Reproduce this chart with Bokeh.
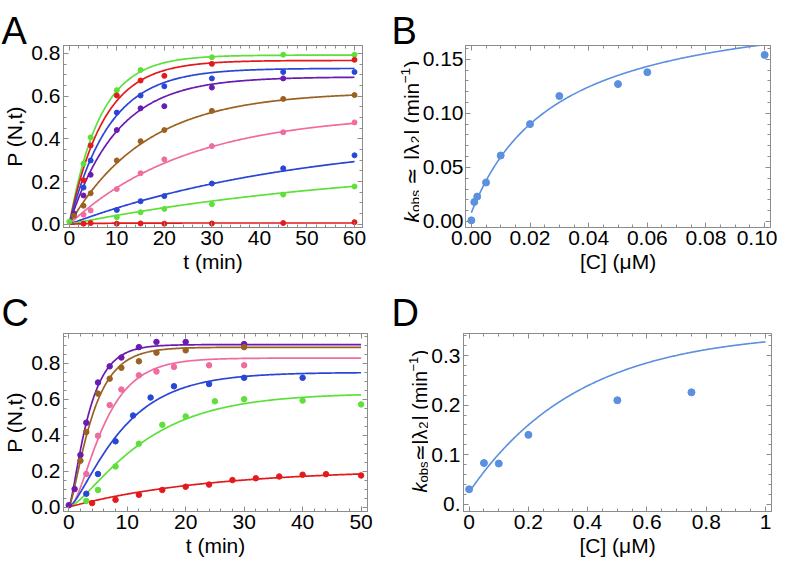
import numpy as np
from bokeh.plotting import figure
from bokeh.models import LinearAxis, FixedTicker, Label, Range1d, PrintfTickFormatter
from bokeh.layouts import column, row
from bokeh.embed import file_html
from bokeh.resources import INLINE

nan = float("nan")
FONT = "Liberation Sans"
FRAME = "#8c8c8c"
TICK_PX = "21px"

# ---------------- Panel A data ----------------
tA = [0, 1, 3, 4.5, 10, 15, 20, 30, 45, 60]
A_green1 = [0.012, nan, 0.284, 0.407, 0.628, 0.722, nan, 0.782, 0.794, 0.794]
A_red1 = [nan, nan, 0.206, 0.369, 0.603, 0.673, 0.695, 0.751, nan, 0.770]
A_blue1 = [nan, nan, 0.172, 0.299, 0.523, 0.603, 0.646, 0.683, 0.713, 0.713]
A_purple = [nan, 0.05, 0.135, 0.232, 0.441, 0.543, 0.553, 0.640, 0.683, nan]
A_brown = [nan, 0.04, 0.087, 0.145, 0.299, 0.389, 0.441, 0.531, 0.587, 0.605]
A_pink = [nan, nan, 0.045, 0.065, 0.165, 0.239, 0.304, 0.366, 0.431, 0.477]
A_blue2 = [nan, nan, nan, nan, 0.067, 0.108, 0.132, 0.191, 0.262, 0.323]
A_green2 = [nan, nan, nan, nan, 0.033, 0.056, 0.072, 0.094, 0.139, 0.177]
A_red2 = [nan, nan, 0.003, 0.006, 0.003, 0.004, 0.003, 0.004, 0.006, 0.010]
A_series = [A_green1, A_red1, A_blue1, A_purple, A_brown, A_pink, A_blue2, A_green2, A_red2]
# fitted curves: plateau, rate (1/min)
A_plateau = [0.792, 0.767, 0.73, 0.69, 0.62, 0.52, 0.42, 0.30, 0.006]
A_rate = [0.155, 0.14, 0.12, 0.10, 0.062, 0.04, 0.02, 0.015, 0.2]

GREEN, RED, BLUE, PURPLE, BROWN, PINK = "#5ee03a", "#e31a1c", "#2a46d6", "#6a1bb0", "#9b6121", "#f06b9f"
LBLUE = "#5b8fe0"
A_colors = [GREEN, RED, BLUE, PURPLE, BROWN, PINK, BLUE, GREEN, RED]

# ---------------- Panel B data ----------------
B_conc = [0, 0.001, 0.002, 0.005, 0.01, 0.02, 0.03, 0.05, 0.06, 0.1]
B_kobs = [0.001, 0.018, 0.023, 0.036, 0.061, 0.090, 0.116, 0.127, 0.138, 0.154]
B_fit = [0.008, 0.2005, 0.0289]  # k0, kmax, K

# ---------------- Panel C data ----------------
C_t_purple = [0, 1, 2, 3, 5, 7, 9, 12, 15, 20, 30]
C_purple = [0.010, 0.10, 0.29, 0.47, 0.694, 0.784, 0.833, 0.891, 0.92, 0.92, 0.908]
C_t_brown = [2, 3, 5, 7, 9, 12, 15, 20, 30]
C_brown = [0.258, 0.418, 0.632, 0.715, 0.776, 0.812, 0.86, 0.873, 0.891]
C_t_pink = [3, 5, 7, 9, 12, 15, 18, 24, 30]
C_pink = [0.184, 0.397, 0.568, 0.655, 0.734, 0.755, 0.781, 0.79, 0.79]
C_t_blue = [3, 5, 8, 11, 14, 18, 24, 30, 40]
C_blue = [0.074, 0.184, 0.366, 0.51, 0.61, 0.673, 0.685, 0.72, 0.72]
C_t_green = [3, 5, 8, 12, 16, 20, 25, 30, 40, 50]
C_green = [0.034, 0.095, 0.226, 0.353, 0.458, 0.505, 0.589, 0.601, 0.593, 0.572]
C_t_red = [4, 8, 12, 16, 20, 24, 28, 32, 36, 40, 44, 50]
C_red = [0.022, 0.04, 0.068, 0.095, 0.113, 0.125, 0.15, 0.16, 0.17, 0.18, 0.183, 0.176]
C_series = [(C_t_purple, C_purple), (C_t_brown, C_brown), (C_t_pink, C_pink),
            (C_t_blue, C_blue), (C_t_green, C_green), (C_t_red, C_red)]
C_colors = [PURPLE, BROWN, PINK, BLUE, GREEN, RED]
# fitted curves: plateau, rate, exponent
C_plateau = [0.905, 0.89, 0.83, 0.75, 0.635, 0.21]
C_rate = [0.345, 0.29, 0.225, 0.13, 0.092, 0.042]
C_power = [1.5, 1.5, 2.0, 1.5, 1.5, 1.0]

# ---------------- Panel D data ----------------
D_conc = [0, 0.05, 0.1, 0.2, 0.5, 0.75]
D_kobs = [0.03, 0.083, 0.082, 0.14, 0.21, 0.226]
D_fit = [0.024, 0.326, 2.7]  # k0, amplitude, rate


def style_axis(ax, ticks, minor, fmt=None, labels=True, overrides=None):
    ax.ticker = FixedTicker(ticks=list(ticks), minor_ticks=list(minor))
    ax.axis_line_color = FRAME
    ax.major_tick_line_color = FRAME
    ax.minor_tick_line_color = FRAME
    ax.major_tick_in = 5
    ax.major_tick_out = 0
    ax.minor_tick_in = 3
    ax.minor_tick_out = 0
    ax.major_label_text_font = FONT
    ax.major_label_text_color = "black"
    ax.major_label_text_font_size = TICK_PX
    ax.major_label_standoff = 3
    ax.axis_label_text_font = FONT
    ax.axis_label_text_font_style = "normal"
    ax.axis_label_text_font_size = "21px"
    ax.axis_label_text_color = "black"
    ax.axis_label_standoff = 2
    if fmt:
        ax.formatter = PrintfTickFormatter(format=fmt)
    if overrides:
        ax.major_label_overrides = overrides
    if not labels:
        ax.major_label_text_color = None
        ax.major_label_text_font_size = "1px"
        ax.major_label_standoff = 0


def panel(w, h, bl, br, bt, bb, xr, yr, xt, xm, yt, ym, xfmt=None, yfmt=None, xov=None, yov=None):
    p = figure(width=w, height=h, x_range=Range1d(*xr), y_range=Range1d(*yr), title=None,
               output_backend="svg", toolbar_location=None, x_axis_type=None, y_axis_type=None,
               min_border_left=bl, min_border_right=br, min_border_top=bt, min_border_bottom=bb)
    p.outline_line_color = FRAME
    p.outline_line_width = 1
    p.background_fill_color = "white"
    p.border_fill_color = "white"
    bottom = LinearAxis()
    style_axis(bottom, xt, xm, xfmt, overrides=xov)
    p.add_layout(bottom, "below")
    left = LinearAxis()
    style_axis(left, yt, ym, yfmt, overrides=yov)
    p.add_layout(left, "left")
    top = LinearAxis()
    style_axis(top, xt, xm, labels=False)
    p.add_layout(top, "above")
    right = LinearAxis()
    style_axis(right, yt, ym, labels=False)
    p.add_layout(right, "right")
    return p, bottom, left


def strip(w, h, bt=0, bb=0):
    # blank figure whose data units are pixels of its frame; holds letters and composite labels.
    # Its top/bottom borders equal those of the plots in the same row, so frames line up.
    fh = h - bt - bb
    s = figure(width=w, height=h, x_range=Range1d(0, w), y_range=Range1d(0, fh), title=None,
               output_backend="svg", toolbar_location=None, x_axis_type=None, y_axis_type=None,
               min_border_left=0, min_border_right=0, min_border_top=bt, min_border_bottom=bb)
    s.outline_line_color = None
    s.background_fill_color = "white"
    s.border_fill_color = "white"
    return s


def letter(s, text, x, y):
    s.add_layout(Label(x=x, y=y, text=text, text_font=FONT, text_font_size="38px",
                       text_color="black", text_align="left", text_baseline="alphabetic"))


def kobs_label(s, x0, y0, base, gap):
    # text, size factor, shift across baseline (px at 21px), style, advance (em)
    pieces = [("k", 1.0, 0, "italic", 0.50),
              ("obs", 0.65, 4, "normal", 1.62 + gap),
              ("\u2243", 1.0, 0, "normal", 0.84 + gap),
              ("|\u03bb", 1.0, 0, "normal", 0.80),
              ("2", 0.65, 4, "normal", 0.62),
              ("| (min", 1.0, 0, "normal", 2.45),
              ("\u22121", 0.65, -6, "normal", 1.16),
              (")", 1.0, 0, "normal", 0.33)]
    y = y0
    for text, sf, shift, style, adv in pieces:
        size = base * sf
        s.add_layout(Label(x=x0 + shift * base / 21.0, y=y, text=text, angle=np.pi / 2,
                           text_font=FONT, text_font_size=f"{size:.1f}px",
                           text_font_style=style, text_color="black",
                           text_align="left", text_baseline="alphabetic"))
        y += adv * size


# ---------------- top letters ----------------
topStrip = strip(777, 45)
letter(topStrip, "A", 1, 15)
letter(topStrip, "B", 391, 15)

# ---------------- Panel A ----------------
pA, axA_x, axA_y = panel(392, 237, 51, 30, 0, 55, (-1.21, 61.68), (-0.015, 0.837),
                         np.arange(0, 61, 10), np.arange(0, 61, 2),
                         np.arange(0, 0.81, 0.2), np.arange(0, 0.81, 0.05),
                         xfmt="%d", yfmt="%.1f")
axA_x.axis_label = "t (min)"
axA_y.axis_label = "P (N,t)"
tt = np.linspace(0, 60, 300)
for col, Am, k in zip(A_colors, A_plateau, A_rate):
    pA.line(tt, Am * (1 - np.exp(-k * tt)), line_color=col, line_width=1.7)
for col, ys in zip(A_colors, A_series):
    pA.scatter(tA, ys, size=5, color=col)

# ---------------- Panel B ----------------
stripB = strip(27, 237, 0, 55)
kobs_label(stripB, 18.5, 5, 21, 0.35)
pB, axB_x, axB_y = panel(358, 237, 44, 7, 0, 55, (-0.002, 0.102), (-0.0056, 0.1627),
                         np.arange(0, 0.101, 0.02), np.arange(0, 0.101, 0.005),
                         np.arange(0, 0.151, 0.05), np.arange(0, 0.161, 0.01),
                         xfmt="%.2f", yfmt="%.2f")
axB_y.major_label_standoff = 2
axB_x.axis_label = "[C] (\u03bcM)"
cc = np.linspace(0, 0.1, 300)
pB.line(cc, B_fit[0] + B_fit[1] * cc / (B_fit[2] + cc), line_color=LBLUE, line_width=1.6)
pB.scatter(B_conc, B_kobs, size=7, color=LBLUE)

# ---------------- middle letters ----------------
midStrip = strip(777, 45)
letter(midStrip, "C", 1, 15)
letter(midStrip, "D", 391, 15)

# ---------------- Panel C ----------------
pC, axC_x, axC_y = panel(392, 239, 59, 25, 6, 55, (-0.9, 51.1), (-0.025, 0.967),
                         np.arange(0, 51, 10), np.arange(0, 51, 2),
                         np.arange(0, 0.81, 0.2), np.arange(0, 0.96, 0.05),
                         xfmt="%d", yfmt="%.1f")
axC_x.axis_label = "t (min)"
axC_y.axis_label = "P (N,t)"
tc = np.linspace(0, 50, 300)
for col, Am, k, n in zip(C_colors, C_plateau, C_rate, C_power):
    pC.line(tc, Am * (1 - np.exp(-k * tc)) ** n, line_color=col, line_width=1.7)
for col, (ts, ys) in zip(C_colors, C_series):
    pC.scatter(ts, ys, size=5.5, color=col)

# ---------------- Panel D ----------------
stripD = strip(36, 239, 6, 55)
kobs_label(stripD, 27, 19, 20, 0.0)
pD, axD_x, axD_y = panel(349, 239, 35, 6, 6, 55, (-0.019, 1.02), (-0.015, 0.345),
                         np.arange(0, 1.01, 0.2), np.arange(0, 1.01, 0.05),
                         np.arange(0, 0.31, 0.1), np.arange(0, 0.341, 0.02),
                         xfmt="%.1f", yfmt="%.1f", xov={0: "0", 1: "1"}, yov={0: "0."})
axD_x.axis_label = "[C] (\u03bcM)"
cd = np.linspace(0, 1, 300)
pD.line(cd, D_fit[0] + D_fit[1] * (1 - np.exp(-D_fit[2] * cd)), line_color=LBLUE, line_width=1.6)
pD.scatter(D_conc, D_kobs, size=7, color=LBLUE)

layout = column(topStrip,
                row(pA, stripB, pB, spacing=0),
                midStrip,
                row(pC, stripD, pD, spacing=0),
                spacing=0)
open("out.html", "w").write(file_html(layout, INLINE))
